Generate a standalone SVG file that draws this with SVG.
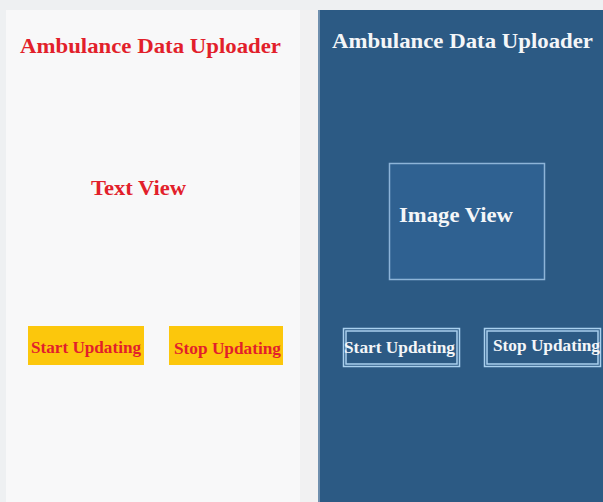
<svg xmlns="http://www.w3.org/2000/svg" width="603" height="502" viewBox="0 0 603 502">
  <style>
    .t { font-family: "Liberation Serif", "DejaVu Serif", serif; font-weight: bold; }
    .red { fill: #e21f2b; }
    .wht { fill: #f4f6f8; }
    .ybtn { fill: #fcc70c; }
    .bbtn { fill: #2c5a84; stroke: #a9d0ee; stroke-width: 1.5; }
  </style>
  <!-- backdrop -->
  <rect x="0" y="0" width="603" height="502" fill="#eef0f2"/>
  <rect x="300" y="10" width="18" height="492" fill="#f1f1f2"/>

  <!-- left screen -->
  <g id="screen-left">
    <rect x="6" y="10" width="294" height="492" fill="#f8f8f9"/>
    <text class="t red" x="20" y="53" font-size="21" textLength="261" lengthAdjust="spacingAndGlyphs">Ambulance Data Uploader</text>
  </g>
  <g id="text-view">
    <text class="t red" x="91" y="195" font-size="21" textLength="95" lengthAdjust="spacingAndGlyphs">Text View</text>
  </g>
  <g id="btn-start-left">
    <rect class="ybtn" x="28" y="326" width="116" height="39"/>
    <text class="t red" x="31" y="353" font-size="16.5" textLength="110" lengthAdjust="spacingAndGlyphs">Start Updating</text>
  </g>
  <g id="btn-stop-left">
    <rect class="ybtn" x="169" y="326" width="114" height="39"/>
    <text class="t red" x="174" y="354" font-size="16.5" textLength="107" lengthAdjust="spacingAndGlyphs">Stop Updating</text>
  </g>

  <!-- right screen -->
  <g id="screen-right">
    <rect x="318" y="10" width="285" height="492" fill="#2c5a84"/>
    <rect x="318" y="10" width="2" height="492" fill="#6f8fae"/>
    <text class="t wht" x="332" y="48" font-size="21" textLength="261" lengthAdjust="spacingAndGlyphs">Ambulance Data Uploader</text>
  </g>
  <g id="image-view">
    <rect x="389.5" y="163.5" width="155" height="116" fill="#2f6191" stroke="#8db4d8" stroke-width="1.5"/>
    <text class="t wht" x="399" y="222" font-size="21" textLength="114" lengthAdjust="spacingAndGlyphs">Image View</text>
  </g>
  <g id="btn-start-right">
    <rect class="bbtn" x="343.5" y="328.5" width="116" height="38"/>
    <rect class="bbtn" x="346" y="331" width="111" height="33"/>
    <text class="t wht" x="344" y="353" font-size="16.5" textLength="111" lengthAdjust="spacingAndGlyphs">Start Updating</text>
  </g>
  <g id="btn-stop-right">
    <rect class="bbtn" x="484.5" y="328.5" width="116" height="38"/>
    <rect class="bbtn" x="487" y="331" width="111" height="33"/>
    <text class="t wht" x="493" y="351" font-size="16.5" textLength="107" lengthAdjust="spacingAndGlyphs">Stop Updating</text>
  </g>

  <!-- no connectors in this layout -->
  <g id="connectors"/>
</svg>
